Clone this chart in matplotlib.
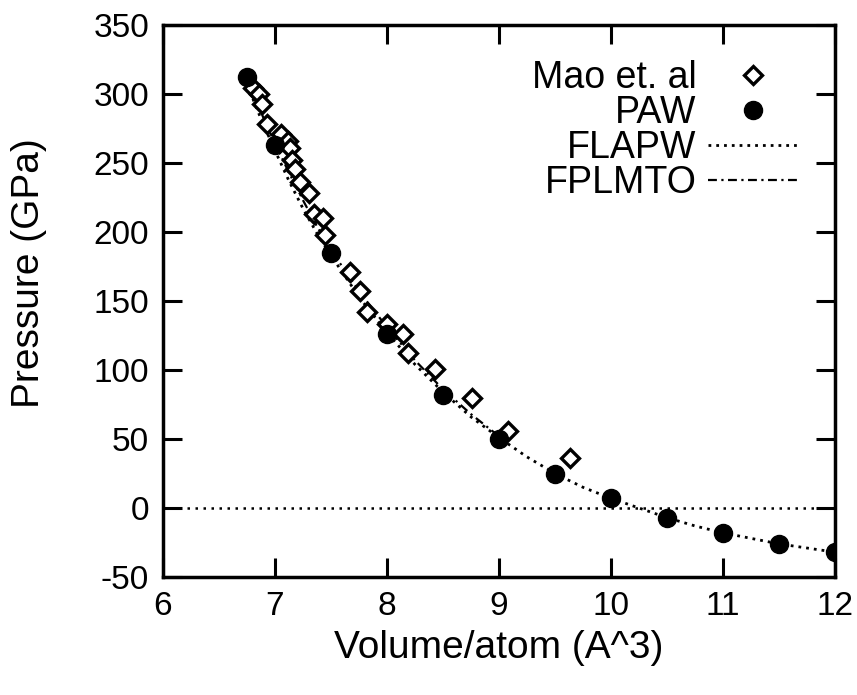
import matplotlib
matplotlib.use("Agg")
import matplotlib.pyplot as plt

plt.rcParams['font.family'] = ['Liberation Sans', 'DejaVu Sans']
plt.rcParams['axes.unicode_minus'] = False

# Experimental data (Mao et al.)
mao_v = [6.80, 6.86, 6.88, 6.93, 7.05, 7.12, 7.13, 7.15, 7.18, 7.22, 7.30,
         7.35, 7.43, 7.45, 7.67, 7.76, 7.82, 8.00, 8.14, 8.19, 8.43, 8.76,
         9.08, 9.63]
mao_p = [304, 300, 293, 278, 271, 266, 261, 252, 246, 236, 228,
         213, 210, 198, 171, 157, 142, 133, 126, 112, 101, 80,
         56, 36]

# PAW calculation
paw_v = [6.75, 7.0, 7.5, 8.0, 8.5, 9.0, 9.5, 10.0, 10.5, 11.0, 11.5, 12.0]
paw_p = [312, 263, 185, 126, 82, 50, 25, 7, -7, -18, -26, -32]

# FLAPW curve
flapw_v = [6.75, 6.875, 7.0, 7.125, 7.25, 7.375, 7.5, 7.625, 7.75, 7.875,
           8.0, 8.25, 8.5, 8.75, 9.0, 9.25, 9.5, 9.75, 10.0, 10.25, 10.5,
           10.75, 11.0, 11.25, 11.5, 11.75, 12.0]
flapw_p = [307, 282, 259, 237, 217, 199, 183, 168, 153, 140,
           127, 104, 84, 66, 51, 37, 25, 15, 7, 0, -7,
           -13, -18, -22, -26, -29, -32]

# FPLMTO curve
fplmto_v = [6.80, 6.9, 7.0, 7.125, 7.25, 7.375, 7.5, 7.625, 7.75, 7.875,
            8.0, 8.25, 8.5, 8.75, 9.0]
fplmto_p = [302, 282, 264, 243, 223, 204, 187, 172, 157, 144,
            131, 107, 86, 68, 52]

fig = plt.figure(figsize=(8.57, 6.95), dpi=100)
ax = fig.add_axes([163/857, 1-577/695, (835-163)/857, (577-25)/695])

ax.axhline(0, color='black', linestyle=(0, (1, 2.2)), linewidth=1.8, zorder=1)

ax.plot(flapw_v, flapw_p, color='black', linestyle=(0, (1, 1.8)), linewidth=2.0,
        label='FLAPW', zorder=2)
ax.plot(fplmto_v, fplmto_p, color='black', linestyle=(0, (4, 2, 1, 2)), linewidth=1.6,
        label='FPLMTO', zorder=2)
ax.plot(mao_v, mao_p, linestyle='none', marker='D', markersize=9,
        markerfacecolor='white', markeredgecolor='black', markeredgewidth=2.4,
        label='Mao et. al', zorder=3)
ax.plot(paw_v, paw_p, linestyle='none', marker='o', markersize=13,
        color='black', label='PAW', zorder=4)

ax.set_xlim(6, 12)
ax.set_ylim(-50, 350)
ax.set_xticks([6, 7, 8, 9, 10, 11, 12])
ax.set_yticks([-50, 0, 50, 100, 150, 200, 250, 300, 350])
ax.tick_params(direction='in', length=14, width=2.2, labelsize=24,
               top=True, right=True, pad=10)
for s in ax.spines.values():
    s.set_linewidth(2.5)

ax.set_xlabel('Volume/atom (A^3)', fontsize=28, labelpad=6)
ax.set_ylabel('Pressure (GPa)', fontsize=28)
ax.yaxis.set_label_coords(-0.172, 0.55)

handles, labels = ax.get_legend_handles_labels()
order = [labels.index(l) for l in ['Mao et. al', 'PAW', 'FLAPW', 'FPLMTO']]
leg = fig.legend([handles[i] for i in order], [labels[i] for i in order],
                 loc='upper right', frameon=False, fontsize=27,
                 markerfirst=False, handlelength=2.4, handletextpad=0.3,
                 labelspacing=-0.03, borderpad=0, borderaxespad=0,
                 bbox_to_anchor=(798/857, 1-60/695))
for t in leg.get_texts():
    t.set_ha('right')
leg._legend_box.align = 'right'

fig.savefig('out.png', dpi=100)
